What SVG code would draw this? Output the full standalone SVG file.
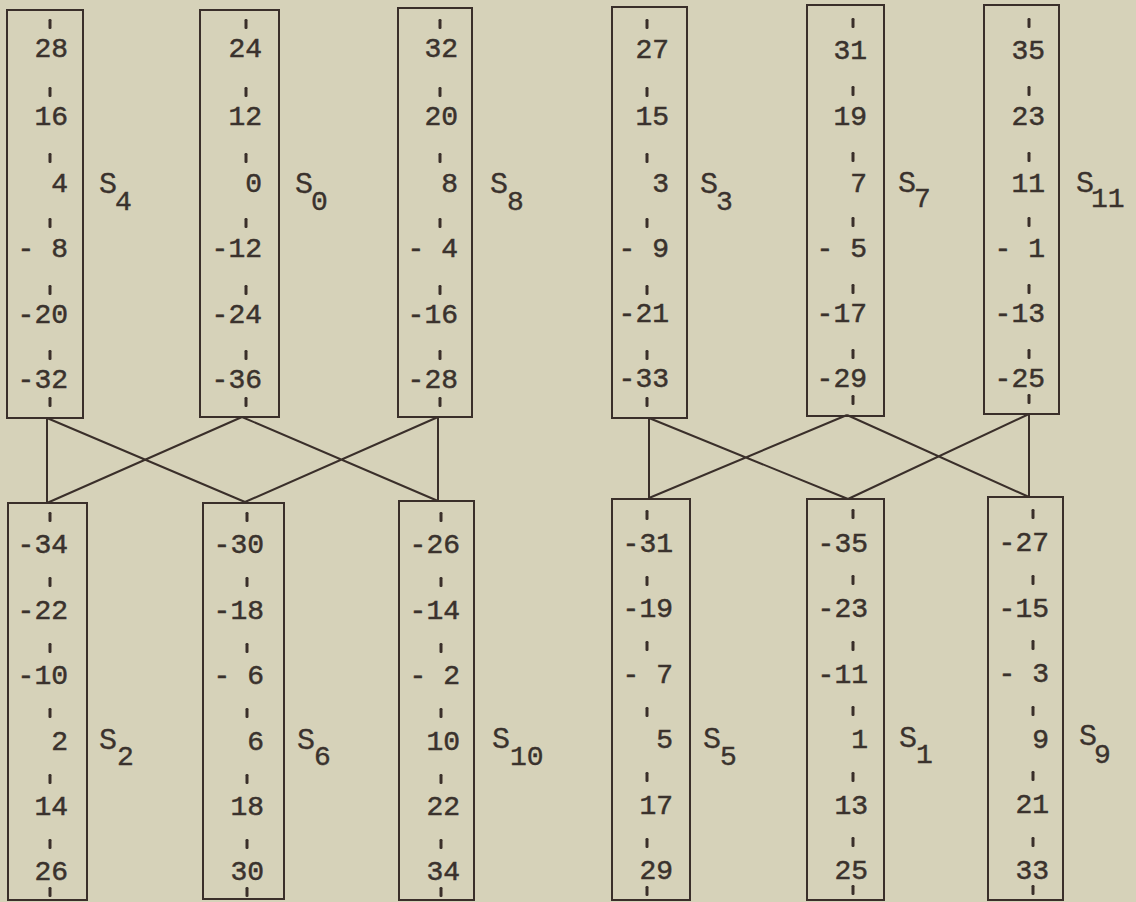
<svg xmlns="http://www.w3.org/2000/svg" width="1136" height="902" viewBox="0 0 1136 902">
<style>
.bg{fill:#d6d2b9}
.box{fill:none;stroke:#3a2f2a;stroke-width:2}
.tk{fill:#3a2f2a}
.n{font-family:"Liberation Mono","DejaVu Sans Mono",monospace;font-size:28px;fill:#3a322d;stroke:#3a322d;stroke-width:0.5;text-anchor:end;white-space:pre}
.s{font-family:"Liberation Mono","DejaVu Sans Mono",monospace;font-size:30px;fill:#3a322d;stroke:#3a322d;stroke-width:0.3}
.sb{font-family:"Liberation Mono","DejaVu Sans Mono",monospace;font-size:28px;fill:#3a322d;stroke:#3a322d;stroke-width:0.4}
.c{fill:none;stroke:#3a2f2a;stroke-width:2}
</style>
<defs>
<rect id="t" x="-1.5" y="-5" width="3" height="10" rx="1.2"/>
</defs>
<rect class="bg" x="0" y="0" width="1136" height="902"/>

<g id="connectors">
<path class="c" d="M47,418 L47,503 M47,418 L245,502 M242,417 L47,503 M242,417 L438,501 M438,417 L245,502 M438,417 L438,501"/>
<path class="c" d="M649,418 L649,498 M649,418 L848,499 M847,415 L649,498 M847,415 L1029,497 M1029,414 L848,499 M1029,414 L1029,497"/>
</g>

<g id="S4">
<rect class="box" x="7" y="10" width="76" height="408"/>
<g class="tk"><use href="#t" x="50" y="24"/><use href="#t" x="50" y="92"/><use href="#t" x="50" y="158"/><use href="#t" x="50" y="223"/><use href="#t" x="50" y="290"/><use href="#t" x="50" y="355"/><use href="#t" x="50" y="402"/></g>
<text class="n" x="68" y="57">28</text><text class="n" x="68" y="125">16</text><text class="n" x="68" y="192">4</text><text class="n" x="68" y="257">- 8</text><text class="n" x="68" y="323">-20</text><text class="n" x="68" y="388">-32</text>
<text class="s" x="99" y="193">S</text><text class="sb" x="115" y="210">4</text>
</g>

<g id="S0">
<rect class="box" x="200" y="10" width="79" height="407"/>
<g class="tk"><use href="#t" x="246" y="24"/><use href="#t" x="246" y="92"/><use href="#t" x="246" y="158"/><use href="#t" x="246" y="223"/><use href="#t" x="246" y="290"/><use href="#t" x="246" y="355"/><use href="#t" x="246" y="402"/></g>
<text class="n" x="262" y="57">24</text><text class="n" x="262" y="125">12</text><text class="n" x="262" y="192">0</text><text class="n" x="262" y="257">-12</text><text class="n" x="262" y="323">-24</text><text class="n" x="262" y="388">-36</text>
<text class="s" x="295" y="193">S</text><text class="sb" x="311" y="210">0</text>
</g>

<g id="S8">
<rect class="box" x="398" y="8" width="74" height="409"/>
<g class="tk"><use href="#t" x="440" y="24"/><use href="#t" x="440" y="92"/><use href="#t" x="440" y="158"/><use href="#t" x="440" y="223"/><use href="#t" x="440" y="290"/><use href="#t" x="440" y="355"/><use href="#t" x="440" y="402"/></g>
<text class="n" x="458" y="57">32</text><text class="n" x="458" y="125">20</text><text class="n" x="458" y="192">8</text><text class="n" x="458" y="257">- 4</text><text class="n" x="458" y="323">-16</text><text class="n" x="458" y="388">-28</text>
<text class="s" x="490" y="193">S</text><text class="sb" x="507" y="210">8</text>
</g>

<g id="S3">
<rect class="box" x="612" y="7" width="75" height="411"/>
<g class="tk"><use href="#t" x="647" y="24"/><use href="#t" x="647" y="92"/><use href="#t" x="647" y="158"/><use href="#t" x="647" y="223"/><use href="#t" x="647" y="290"/><use href="#t" x="647" y="355"/><use href="#t" x="647" y="402"/></g>
<text class="n" x="669" y="58">27</text><text class="n" x="669" y="125">15</text><text class="n" x="669" y="192">3</text><text class="n" x="669" y="257">- 9</text><text class="n" x="669" y="322">-21</text><text class="n" x="669" y="387">-33</text>
<text class="s" x="700" y="193">S</text><text class="sb" x="716" y="210">3</text>
</g>

<g id="S7">
<rect class="box" x="807" y="5" width="77" height="411"/>
<g class="tk"><use href="#t" x="853" y="23"/><use href="#t" x="853" y="91"/><use href="#t" x="853" y="157"/><use href="#t" x="853" y="222"/><use href="#t" x="853" y="289"/><use href="#t" x="853" y="354"/><use href="#t" x="853" y="400"/></g>
<text class="n" x="867" y="59">31</text><text class="n" x="867" y="125">19</text><text class="n" x="867" y="192">7</text><text class="n" x="867" y="257">- 5</text><text class="n" x="867" y="322">-17</text><text class="n" x="867" y="387">-29</text>
<text class="s" x="898" y="192">S</text><text class="sb" x="914" y="207">7</text>
</g>

<g id="S11">
<rect class="box" x="984" y="5" width="75" height="409"/>
<g class="tk"><use href="#t" x="1029" y="23"/><use href="#t" x="1029" y="91"/><use href="#t" x="1029" y="157"/><use href="#t" x="1029" y="222"/><use href="#t" x="1029" y="289"/><use href="#t" x="1029" y="354"/><use href="#t" x="1029" y="399"/></g>
<text class="n" x="1045" y="59">35</text><text class="n" x="1045" y="125">23</text><text class="n" x="1045" y="192">11</text><text class="n" x="1045" y="257">- 1</text><text class="n" x="1045" y="322">-13</text><text class="n" x="1045" y="387">-25</text>
<text class="s" x="1076" y="192">S</text><text class="sb" x="1091" y="207">11</text>
</g>

<g id="S2">
<rect class="box" x="8" y="503" width="79" height="397"/>
<g class="tk"><use href="#t" x="50" y="517"/><use href="#t" x="50" y="582"/><use href="#t" x="50" y="648"/><use href="#t" x="50" y="713"/><use href="#t" x="50" y="779"/><use href="#t" x="50" y="844"/><use href="#t" x="50" y="892"/></g>
<text class="n" x="68" y="553">-34</text><text class="n" x="68" y="619">-22</text><text class="n" x="68" y="684">-10</text><text class="n" x="68" y="750">2</text><text class="n" x="68" y="815">14</text><text class="n" x="68" y="880">26</text>
<text class="s" x="99" y="749">S</text><text class="sb" x="117" y="765">2</text>
</g>

<g id="S6">
<rect class="box" x="203" y="503" width="81" height="396"/>
<g class="tk"><use href="#t" x="247" y="517"/><use href="#t" x="247" y="582"/><use href="#t" x="247" y="648"/><use href="#t" x="247" y="713"/><use href="#t" x="247" y="779"/><use href="#t" x="247" y="844"/><use href="#t" x="247" y="892"/></g>
<text class="n" x="264" y="553">-30</text><text class="n" x="264" y="619">-18</text><text class="n" x="264" y="684">- 6</text><text class="n" x="264" y="750">6</text><text class="n" x="264" y="815">18</text><text class="n" x="264" y="880">30</text>
<text class="s" x="297" y="749">S</text><text class="sb" x="314" y="765">6</text>
</g>

<g id="S10">
<rect class="box" x="399" y="501" width="75" height="399"/>
<g class="tk"><use href="#t" x="441" y="517"/><use href="#t" x="441" y="582"/><use href="#t" x="441" y="648"/><use href="#t" x="441" y="713"/><use href="#t" x="441" y="779"/><use href="#t" x="441" y="844"/><use href="#t" x="441" y="892"/></g>
<text class="n" x="460" y="553">-26</text><text class="n" x="460" y="619">-14</text><text class="n" x="460" y="684">- 2</text><text class="n" x="460" y="750">10</text><text class="n" x="460" y="815">22</text><text class="n" x="460" y="880">34</text>
<text class="s" x="492" y="748">S</text><text class="sb" x="510" y="765">10</text>
</g>

<g id="S5">
<rect class="box" x="612" y="499" width="78" height="401"/>
<g class="tk"><use href="#t" x="647" y="515"/><use href="#t" x="647" y="581"/><use href="#t" x="647" y="646"/><use href="#t" x="647" y="712"/><use href="#t" x="647" y="777"/><use href="#t" x="647" y="843"/><use href="#t" x="647" y="891"/></g>
<text class="n" x="673" y="552">-31</text><text class="n" x="673" y="617">-19</text><text class="n" x="673" y="683">- 7</text><text class="n" x="673" y="748">5</text><text class="n" x="673" y="814">17</text><text class="n" x="673" y="879">29</text>
<text class="s" x="703" y="748">S</text><text class="sb" x="720" y="765">5</text>
</g>

<g id="S1">
<rect class="box" x="807" y="499" width="77" height="401"/>
<g class="tk"><use href="#t" x="853" y="514"/><use href="#t" x="853" y="580"/><use href="#t" x="853" y="646"/><use href="#t" x="853" y="711"/><use href="#t" x="853" y="777"/><use href="#t" x="853" y="842"/><use href="#t" x="853" y="890"/></g>
<text class="n" x="868" y="552">-35</text><text class="n" x="868" y="617">-23</text><text class="n" x="868" y="683">-11</text><text class="n" x="868" y="748">1</text><text class="n" x="868" y="814">13</text><text class="n" x="868" y="879">25</text>
<text class="s" x="899" y="747">S</text><text class="sb" x="916" y="763">1</text>
</g>

<g id="S9">
<rect class="box" x="988" y="497" width="75" height="403"/>
<g class="tk"><use href="#t" x="1033" y="514"/><use href="#t" x="1033" y="580"/><use href="#t" x="1033" y="645"/><use href="#t" x="1033" y="711"/><use href="#t" x="1033" y="776"/><use href="#t" x="1033" y="842"/><use href="#t" x="1033" y="890"/></g>
<text class="n" x="1049" y="551">-27</text><text class="n" x="1049" y="617">-15</text><text class="n" x="1049" y="682">- 3</text><text class="n" x="1049" y="748">9</text><text class="n" x="1049" y="813">21</text><text class="n" x="1049" y="879">33</text>
<text class="s" x="1079" y="745">S</text><text class="sb" x="1094" y="763">9</text>
</g>
</svg>
